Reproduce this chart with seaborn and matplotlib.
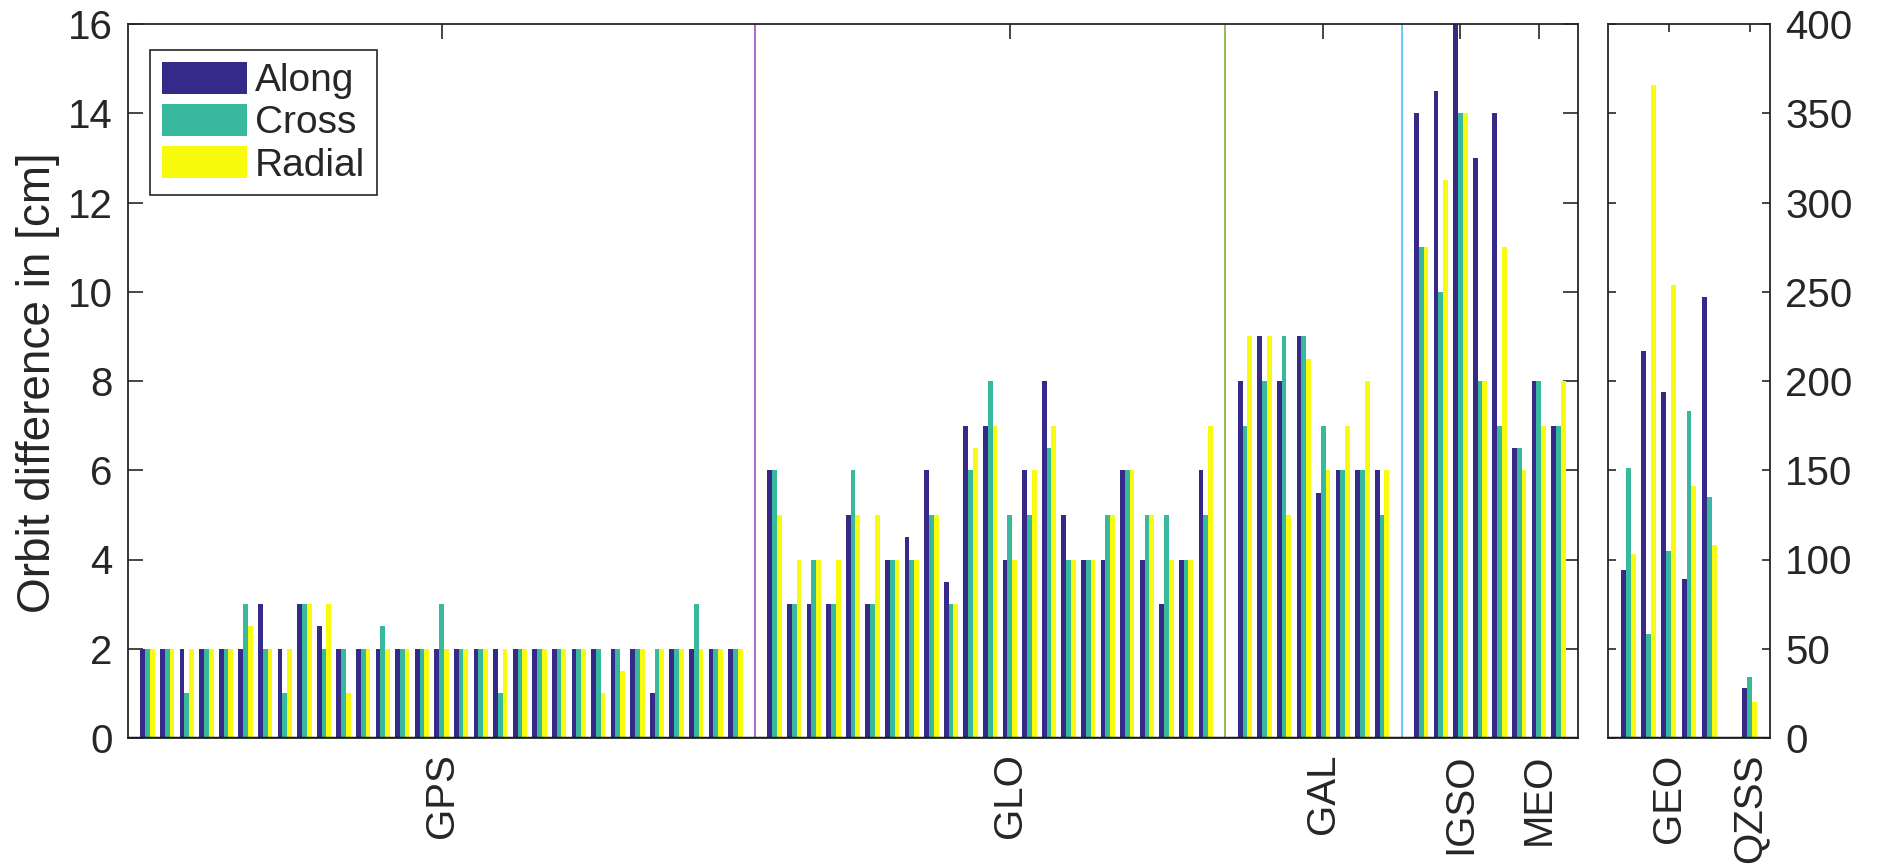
import numpy as np
import pandas as pd
import matplotlib
matplotlib.use("Agg")
import matplotlib.pyplot as plt
import seaborn as sns

sns.set_theme(style="white")
plt.rcParams["font.family"] = ["Liberation Sans", "DejaVu Sans"]

# ---------------- data ----------------
components = ["Along", "Cross", "Radial"]
colors = {"Along": "#352a87", "Cross": "#38b99e", "Radial": "#f9fb0e"}

gps_along  = [2, 2, 2, 2, 2, 2, 3, 2, 3, 2.5, 2, 2, 2, 2, 2, 2, 2, 2, 2, 2, 2, 2, 2, 2, 2, 2, 1, 2, 2, 2, 2]
gps_cross  = [2, 2, 1, 2, 2, 3, 2, 1, 3, 2, 2, 2, 2.5, 2, 2, 3, 2, 2, 1, 2, 2, 2, 2, 2, 2, 2, 2, 2, 3, 2, 2]
gps_radial = [2, 2, 2, 2, 2, 2.5, 2, 2, 3, 3, 1, 2, 2, 2, 2, 2, 2, 2, 2, 2, 2, 2, 2, 1, 1.5, 2, 2, 2, 2, 2, 2]

glo_along  = [6, 3, 3, 3, 5, 3, 4, 4.5, 6, 3.5, 7, 7, 4, 6, 8, 5, 4, 4, 6, 4, 3, 4, 6]
glo_cross  = [6, 3, 4, 3, 6, 3, 4, 4, 5, 3, 6, 8, 5, 5, 6.5, 4, 4, 5, 6, 5, 5, 4, 5]
glo_radial = [5, 4, 4, 4, 5, 5, 4, 4, 5, 3, 6.5, 7, 4, 6, 7, 4, 4, 5, 6, 5, 4, 4, 7]

gal_along  = [8, 9, 8, 9, 5.5, 6, 6, 6]
gal_cross  = [7, 8, 9, 9, 7, 6, 6, 5]
gal_radial = [9, 9, 5, 8.5, 6, 7, 8, 6]

igso_along  = [14, 14.5, 16.5, 13, 14]
igso_cross  = [11, 10, 14, 8, 7]
igso_radial = [11, 12.5, 14, 8, 11]

meo_along  = [6.5, 8, 7]
meo_cross  = [6.5, 8, 7]
meo_radial = [6, 7, 8]

geo_along  = [94, 217, 194, 89, 247]
geo_cross  = [151, 58, 105, 183, 135]
geo_radial = [103, 366, 254, 141, 108]

qzss_along  = [28]
qzss_cross  = [34]
qzss_radial = [20]

main_tick_labels = ["GPS", "GLO", "GAL", "IGSO", "MEO"]
main_tick_slots = [16, 45, 61, 68, 72]          # 1-based slot of each label
right_tick_labels = ["GEO", "QZSS"]
right_tick_slots = [3, 7]
sep_colors = ["#b06ac6", "#8cbf58", "#6ccaf2"]


def build(blocks):
    """blocks: list of (along, cross, radial, gap_after)"""
    rec = []
    seps = []
    slot = 0
    for a, c, r, gap in blocks:
        for i in range(len(a)):
            rec += [(slot, "Along", a[i]), (slot, "Cross", c[i]), (slot, "Radial", r[i])]
            slot += 1
        if gap:
            seps.append(slot)
            rec += [(slot, k, 0.0) for k in components]
            slot += 1
    return pd.DataFrame(rec, columns=["slot", "component", "value"]), seps, slot


main_df, main_seps, n_main = build([
    (gps_along, gps_cross, gps_radial, True),
    (glo_along, glo_cross, glo_radial, True),
    (gal_along, gal_cross, gal_radial, True),
    (igso_along, igso_cross, igso_radial, False),
    (meo_along, meo_cross, meo_radial, False),
])
right_df, _, n_right = build([
    (geo_along, geo_cross, geo_radial, True),
    (qzss_along, qzss_cross, qzss_radial, False),
])

# ---------------- figure ----------------
W, H = 1877, 865
fig = plt.figure(figsize=(W / 100, H / 100), dpi=100)
ax = fig.add_axes([128 / W, 1 - 738 / H, (1578 - 128) / W, (738 - 24) / H])
ax2 = fig.add_axes([1608 / W, 1 - 738 / H, (1770 - 1608) / W, (738 - 24) / H])

dark = "#262626"
tick_fs = 29

sns.barplot(data=main_df, x="slot", y="value", hue="component",
            order=list(range(n_main)), hue_order=components, palette=colors,
            width=0.73, gap=0, saturation=1, errorbar=None,
            linewidth=0, edgecolor="none", ax=ax)
sns.barplot(data=right_df, x="slot", y="value", hue="component",
            order=list(range(n_right)), hue_order=components, palette=colors,
            width=0.73, gap=0, saturation=1, errorbar=None,
            linewidth=0, edgecolor="none", ax=ax2, legend=False)

# main axes
ax.set_xlim(-1, n_main)
ax.set_ylim(0, 16)
ax.set_yticks(np.arange(0, 17, 2))
ax.set_xticks([s - 1 for s in main_tick_slots], main_tick_labels, rotation=90)
ax.set_xlabel("")
ax.set_ylabel("")
for s, col in zip(main_seps, sep_colors):
    ax.axvline(s, color=col, lw=1.4, zorder=1)
ax.axhline(0, color="#1a1a1a", lw=2.5, zorder=5)
ax.tick_params(axis="both", direction="in", length=11, width=1.2, color=dark,
               labelsize=tick_fs, labelcolor=dark, pad=11,
               top=True, bottom=True, left=True, right=True)

# right axes
ax2.set_xlim(-1, n_right)
ax2.set_ylim(0, 400)
ax2.set_yticks(np.arange(0, 401, 50))
ax2.set_xticks([s - 1 for s in right_tick_slots], right_tick_labels, rotation=90)
ax2.set_xlabel("")
ax2.set_ylabel("")
ax2.axhline(0, color="#1a1a1a", lw=2.5, zorder=5)
ax2.tick_params(axis="both", direction="in", length=6, width=1.2, color=dark,
                labelsize=tick_fs, labelcolor=dark, pad=11,
                top=True, bottom=True, left=True, right=True,
                labelleft=False, labelright=True)

for a in (ax, ax2):
    for sp in a.spines.values():
        sp.set_visible(True)
        sp.set_color(dark)
        sp.set_linewidth(1.3)
    a.grid(False)

# legend
handles, labels = ax.get_legend_handles_labels()
ax.legend(handles, labels, loc="upper left",
          bbox_to_anchor=(150 / W, 1 - 50 / H), bbox_transform=fig.transFigure,
          borderaxespad=0, fontsize=28, frameon=True, fancybox=False,
          edgecolor=dark, framealpha=1, handlelength=2.2, handleheight=0.9,
          handletextpad=0.2, labelspacing=0.12, borderpad=0.3)
ax.get_legend().get_frame().set_linewidth(1.2)
for t in ax.get_legend().get_texts():
    t.set_color(dark)

fig.text(38 / W, 1 - 383 / H, "Orbit difference in [cm]", rotation=90,
         ha="center", va="center", fontsize=33, color=dark)

fig.savefig("out.png", dpi=100)
